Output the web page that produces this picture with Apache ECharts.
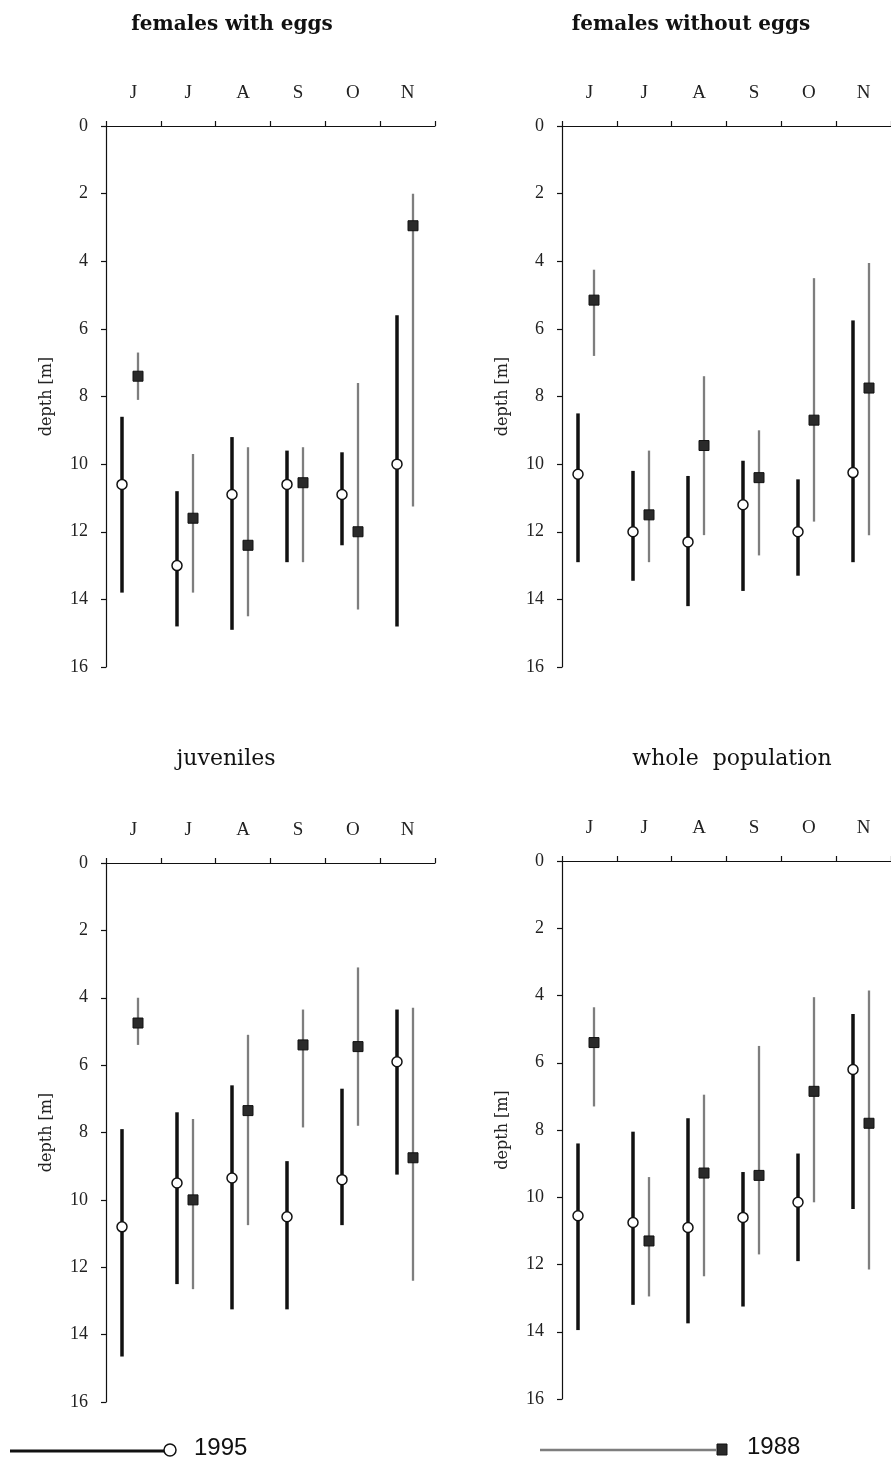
<!DOCTYPE html>
<html>
<head>
<meta charset="utf-8">
<script src="https://cdn.jsdelivr.net/npm/echarts@6/dist/echarts.min.js"></script>
<style>
html,body{margin:0;padding:0;background:#fff;}
#chart{width:891px;height:1461px;}
</style>
</head>
<body>
<div id="chart"></div>
<script>
// Month categories (June..November)
const months = ['J', 'J', 'A', 'S', 'O', 'N'];
const depthTicks = [0, 2, 4, 6, 8, 10, 12, 14, 16];
const panelTitles = ['females with eggs', 'females without eggs', 'juveniles', 'whole  population'];
const years = ['1995', '1988'];

// Each entry: [top of range, mean depth, bottom of range] in metres
const eggs1995 = [[8.6, 10.6, 13.8], [10.8, 13.0, 14.8], [9.2, 10.9, 14.9], [9.6, 10.6, 12.9], [9.65, 10.9, 12.4], [5.6, 10.0, 14.8]];
const eggs1988 = [[6.7, 7.4, 8.1], [9.7, 11.6, 13.8], [9.5, 12.4, 14.5], [9.5, 10.55, 12.9], [7.6, 12.0, 14.3], [2.0, 2.95, 11.25]];
const noEggs1995 = [[8.5, 10.3, 12.9], [10.2, 12.0, 13.45], [10.35, 12.3, 14.2], [9.9, 11.2, 13.75], [10.45, 12.0, 13.3], [5.75, 10.25, 12.9]];
const noEggs1988 = [[4.25, 5.15, 6.8], [9.6, 11.5, 12.9], [7.4, 9.45, 12.1], [9.0, 10.4, 12.7], [4.5, 8.7, 11.7], [4.05, 7.75, 12.1]];
const juv1995 = [[7.9, 10.8, 14.65], [7.4, 9.5, 12.5], [6.6, 9.35, 13.25], [8.85, 10.5, 13.25], [6.7, 9.4, 10.75], [4.35, 5.9, 9.25]];
const juv1988 = [[4.0, 4.75, 5.4], [7.6, 10.0, 12.65], [5.1, 7.35, 10.75], [4.35, 5.4, 7.85], [3.1, 5.45, 7.8], [4.3, 8.75, 12.4]];
const whole1995 = [[8.4, 10.55, 13.95], [8.05, 10.75, 13.2], [7.65, 10.9, 13.75], [9.25, 10.6, 13.25], [8.7, 10.15, 11.9], [4.55, 6.2, 10.35]];
const whole1988 = [[4.35, 5.4, 7.3], [9.4, 11.3, 12.95], [6.95, 9.28, 12.35], [5.5, 9.35, 11.7], [4.05, 6.85, 10.15], [3.85, 7.8, 12.15]];

const panelData = [[eggs1995, eggs1988], [noEggs1995, noEggs1988], [juv1995, juv1988], [whole1995, whole1988]];

const grids = [
  { left: 106, top: 126, width: 329, height: 541 },
  { left: 562, top: 126, width: 330, height: 541 },
  { left: 106, top: 863, width: 329, height: 539 },
  { left: 562, top: 861, width: 330, height: 538 }
];
const titlePos = [
  { x: 227, y: 10, bold: true, size: 20 },
  { x: 686, y: 10, bold: true, size: 20 },
  { x: 221, y: 743, bold: false, size: 22 },
  { x: 727, y: 743, bold: false, size: 22 }
];

const chart = echarts.init(document.getElementById('chart'), null, { renderer: 'canvas' });

function makeRender(yearIdx) {
  return function (params, api) {
    const i = api.value(0);
    const lo = api.value(1), mid = api.value(2), hi = api.value(3);
    const bw = api.size([1, 0])[0];
    const pLo = api.coord([i, lo]);
    const pHi = api.coord([i, hi]);
    const pMid = api.coord([i, mid]);
    const off = yearIdx === 0 ? -0.2 : 0.09;
    const x = Math.round(pLo[0] + off * bw);
    const children = [];
    if (yearIdx === 0) {
      children.push({ type: 'line', shape: { x1: x, y1: pLo[1], x2: x, y2: pHi[1] }, style: { stroke: '#111', lineWidth: 3.5 } });
      children.push({ type: 'circle', shape: { cx: x, cy: pMid[1], r: 5 }, style: { fill: '#fff', stroke: '#111', lineWidth: 1.5 } });
    } else {
      children.push({ type: 'line', shape: { x1: x, y1: pLo[1], x2: x, y2: pHi[1] }, style: { stroke: '#7e7e7e', lineWidth: 2.3 } });
      children.push({ type: 'rect', shape: { x: x - 5, y: pMid[1] - 5, width: 10, height: 10 }, style: { fill: '#2a2a2a', stroke: '#111', lineWidth: 1 } });
    }
    return { type: 'group', children: children };
  };
}

const xAxes = [], yAxes = [], series = [], titles = [];
grids.forEach(function (g, gi) {
  xAxes.push({
    type: 'category', gridIndex: gi, data: months, position: 'top', boundaryGap: true,
    axisLine: { show: true, onZero: false, lineStyle: { color: '#111', width: 1.2 } },
    axisTick: { show: true, interval: 0, length: 5, alignWithLabel: false, lineStyle: { color: '#111', width: 1.2 } },
    axisLabel: { show: true, interval: 0, margin: 23, fontFamily: 'Liberation Serif', fontSize: 19, color: '#222' },
    splitLine: { show: false }
  });
  yAxes.push({
    type: 'value', gridIndex: gi, inverse: true, min: 0, max: 16, interval: 2,
    axisLine: { show: true, onZero: false, lineStyle: { color: '#111', width: 1.2 } },
    axisTick: { show: true, length: 5, lineStyle: { color: '#111', width: 1.2 } },
    axisLabel: { margin: 18, fontFamily: 'Liberation Serif', fontSize: 18, color: '#222',
      formatter: function (v) { return depthTicks.indexOf(v) >= 0 ? String(v) : ''; } },
    splitLine: { show: false },
    name: 'depth [m]', nameLocation: 'middle', nameRotate: 90, nameGap: 51,
    nameTextStyle: { fontFamily: 'DejaVu Serif', fontSize: 16, color: '#222' }
  });
  const tp = titlePos[gi];
  titles.push({
    text: panelTitles[gi], left: tp.x, top: tp.y, textAlign: 'center',
    textStyle: { fontFamily: 'DejaVu Serif', fontSize: tp.size, fontWeight: tp.bold ? 'bold' : 'normal', color: '#111' }
  });
  panelData[gi].forEach(function (arr, yi) {
    series.push({
      type: 'custom', name: years[yi], xAxisIndex: gi, yAxisIndex: gi,
      renderItem: makeRender(yi), clip: false,
      encode: { x: 0, y: [1, 2, 3] },
      data: arr.map(function (d, i) { return [i, d[0], d[1], d[2]]; }),
      z: yi === 0 ? 3 : 2
    });
  });
});

chart.setOption({
  backgroundColor: '#fff',
  animation: false,
  title: titles,
  grid: grids,
  xAxis: xAxes,
  yAxis: yAxes,
  series: series,
  graphic: [
    { type: 'line', shape: { x1: 10, y1: 1451, x2: 165, y2: 1451 }, style: { stroke: '#111', lineWidth: 3 } },
    { type: 'circle', shape: { cx: 170, cy: 1450, r: 6 }, style: { fill: '#fff', stroke: '#111', lineWidth: 1.5 } },
    { type: 'text', left: 194, top: 1436, style: { text: years[0], font: '24px "Liberation Sans"', fill: '#111' } },
    { type: 'line', shape: { x1: 540, y1: 1450, x2: 716, y2: 1450 }, style: { stroke: '#7e7e7e', lineWidth: 2.3 } },
    { type: 'rect', shape: { x: 717, y: 1444, width: 10, height: 11 }, style: { fill: '#2a2a2a', stroke: '#111', lineWidth: 1 } },
    { type: 'text', left: 747, top: 1435, style: { text: years[1], font: '24px "Liberation Sans"', fill: '#111' } }
  ]
});
</script>
</body>
</html>
